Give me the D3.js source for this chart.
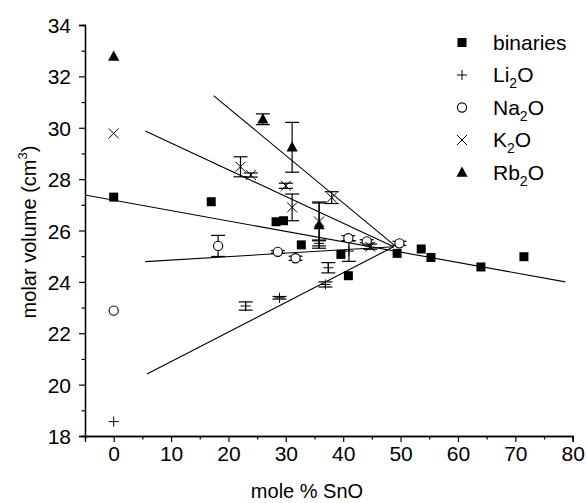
<!DOCTYPE html>
<html>
<head>
<meta charset="utf-8">
<script src="https://cdn.jsdelivr.net/npm/d3@7"></script>
<style>
body { margin: 0; background: white; }
text { font-family: Arial, "Liberation Sans", Helvetica, sans-serif; fill: black; }
</style>
</head>
<body>
<div id="chart"></div>
<script>
// values
var binX = [0, 17, 28.3, 29.6, 32.7, 39.6, 40.9, 49.4, 53.6, 55.3, 64.0, 71.5]
var binY = [27.3, 27.12, 26.34, 26.38, 25.44, 25.07, 24.24, 25.11, 25.28, 24.95, 24.58, 24.98]

var liX = [0, 23.0, 28.9, 35.8, 36.9, 37.4, 41.0]
var liY = [18.56, 23.06, 23.38, 25.5, 23.9, 24.55, 25.2]
var liErr = [0, 0.16, 0.05, 0.1, 0.1, 0.2, 0.4]

var naX = [0, 18.2, 28.6, 31.7, 40.9, 44.1, 49.8]
var naY = [22.88, 25.4, 25.17, 24.92, 25.7, 25.58, 25.5]
var naErr = [0, 0.41, 0.05, 0.08, 0.1, 0.06, 0.08]

var kX = [0, 22.1, 23.9, 30.0, 31.1, 35.8, 38.0, 44.7]
var kY = [29.78, 28.48, 28.16, 27.74, 26.9, 26.35, 27.28, 25.37]
var kErr = [0, 0.39, 0.08, 0.1, 0.52, 0.72, 0.23, 0.1]

var rbX = [0, 26.0, 31.1, 35.8]
var rbY = [32.77, 30.33, 29.24, 26.21]
var rbErr = [0, 0.21, 0.97, 0.9]

// fitted lines: [x0, y0, x1, y1]
var fitBin = [-5, 27.38, 78.7, 24.0]
var fitLi = [5.8, 20.41, 48.8, 25.37]
var fitNa = [5.5, 24.79, 48.8, 25.37]
var fitK = [5.5, 29.87, 48.8, 25.37]
var fitRb = [17.4, 31.25, 49.2, 25.37]

var xTicks = [0, 10, 20, 30, 40, 50, 60, 70, 80]
var xMinor = [5, 15, 25, 35, 45, 55, 65, 75]
var yTicks = [18, 20, 22, 24, 26, 28, 30, 32, 34]
var yMinor = [19, 21, 23, 25, 27, 29, 31, 33]

var legendNames = [["binaries", ""], ["Li", "2", "O"], ["Na", "2", "O"], ["K", "2", "O"], ["Rb", "2", "O"]]
var legendShapes = ["square", "plus", "circle", "cross", "triangle"]

var w = 587
var h = 503

var svg = d3.select("#chart").append("svg").attr("width", w).attr("height", h)

var xScale = d3.scaleLinear().domain([-5, 80]).range([85, 572.7])
var yScale = d3.scaleLinear().domain([18, 34]).range([436, 25])

// axes
var xAxis = svg.append("g").attr("transform", "translate(0,436)")
  .call(d3.axisBottom(xScale).tickValues(xTicks).tickSize(6).tickPadding(3).tickFormat(d3.format("d")))
var xAxisMinor = svg.append("g").attr("transform", "translate(0,436)")
  .call(d3.axisBottom(xScale).tickValues(xMinor).tickSize(3.5).tickFormat(""))
var yAxis = svg.append("g").attr("transform", "translate(85,0)")
  .call(d3.axisLeft(yScale).tickValues(yTicks).tickSize(6).tickPadding(8).tickFormat(d3.format("d")))
var yAxisMinor = svg.append("g").attr("transform", "translate(85,0)")
  .call(d3.axisLeft(yScale).tickValues(yMinor).tickSize(3.5).tickFormat(""))

svg.selectAll(".domain").attr("stroke-width", 1.3)
svg.selectAll(".tick line").attr("stroke-width", 1.2)
svg.selectAll(".tick text")
  .attr("font-size", "21px")
  .attr("font-family", "Arial, 'Liberation Sans', sans-serif")
xAxis.selectAll(".tick text").attr("dy", "0.76em")
yAxis.selectAll(".tick text").attr("dy", "0.36em")

// axis titles
svg.append("text")
  .attr("x", 307).attr("y", 498)
  .attr("text-anchor", "middle")
  .attr("font-size", "20px")
  .text("mole % SnO")

var yTitle = svg.append("text")
  .attr("transform", "translate(36,232) rotate(-90)")
  .attr("text-anchor", "middle")
  .attr("font-size", "20px")
yTitle.append("tspan").text("molar volume (cm")
yTitle.append("tspan").attr("font-size", "13px").attr("dy", -9).text("3")
yTitle.append("tspan").attr("dy", 9).text(")")

// fit lines
var fits = [fitBin, fitLi, fitNa, fitK, fitRb]
svg.selectAll("line.fit")
  .data(fits)
  .enter()
  .append("line")
  .attr("class", "fit")
  .attr("x1", function(d) {return xScale(d[0]);})
  .attr("y1", function(d) {return yScale(d[1]);})
  .attr("x2", function(d) {return xScale(d[2]);})
  .attr("y2", function(d) {return yScale(d[3]);})
  .attr("stroke", "black")
  .attr("stroke-width", 1.1)

// draws one marker shape centered at 0,0
function drawShape(g, shape) {
  if (shape == "square") {
    g.append("rect").attr("x", -4.5).attr("y", -4.5).attr("width", 9).attr("height", 9).attr("fill", "black")
  } else if (shape == "plus") {
    g.append("path").attr("d", "M-5,0H5M0,-5V5").attr("stroke", "black").attr("stroke-width", 1).attr("fill", "none")
  } else if (shape == "circle") {
    g.append("circle").attr("r", 4.6).attr("fill", "white").attr("stroke", "black").attr("stroke-width", 1.1)
  } else if (shape == "cross") {
    g.append("path").attr("d", "M-5,-5L5,5M-5,5L5,-5").attr("stroke", "black").attr("stroke-width", 1).attr("fill", "none")
  } else if (shape == "triangle") {
    g.append("path").attr("d", "M0,-6L5.6,4.2H-5.6Z").attr("fill", "black")
  }
}

function drawSeries(xs, ys, errs, shape) {
  var data = xs.map(function(x, i) {return {x: x, y: ys[i], e: errs ? errs[i] : 0};})

  var bars = data.filter(function(d) {return d.e > 0;})
  var eb = svg.append("g")
  eb.selectAll("line.v").data(bars).enter().append("line")
    .attr("x1", function(d) {return xScale(d.x);})
    .attr("x2", function(d) {return xScale(d.x);})
    .attr("y1", function(d) {return yScale(d.y - d.e);})
    .attr("y2", function(d) {return yScale(d.y + d.e);})
    .attr("stroke", "black").attr("stroke-width", 1.2)
  eb.selectAll("line.top").data(bars).enter().append("line")
    .attr("x1", function(d) {return xScale(d.x) - 7;})
    .attr("x2", function(d) {return xScale(d.x) + 7;})
    .attr("y1", function(d) {return yScale(d.y + d.e);})
    .attr("y2", function(d) {return yScale(d.y + d.e);})
    .attr("stroke", "black").attr("stroke-width", 1.2)
  eb.selectAll("line.bot").data(bars).enter().append("line")
    .attr("x1", function(d) {return xScale(d.x) - 7;})
    .attr("x2", function(d) {return xScale(d.x) + 7;})
    .attr("y1", function(d) {return yScale(d.y - d.e);})
    .attr("y2", function(d) {return yScale(d.y - d.e);})
    .attr("stroke", "black").attr("stroke-width", 1.2)

  svg.append("g").selectAll("g").data(data).enter().append("g")
    .attr("transform", function(d) {return "translate(" + xScale(d.x) + "," + yScale(d.y) + ")";})
    .each(function() {drawShape(d3.select(this), shape);})
}

drawSeries(binX, binY, null, "square")
drawSeries(liX, liY, liErr, "plus")
drawSeries(naX, naY, naErr, "circle")
drawSeries(kX, kY, kErr, "cross")
drawSeries(rbX, rbY, rbErr, "triangle")

// legend
var legend = svg.append("g")
legendNames.forEach(function(name, i) {
  var row = legend.append("g").attr("transform", "translate(462," + (42.5 + i * 32.5) + ")")
  drawShape(row, legendShapes[i])
  var t = row.append("text").attr("x", 31).attr("y", 7).attr("font-size", "21px")
  t.append("tspan").text(name[0])
  if (name[1] != "") {
    t.append("tspan").attr("font-size", "14px").attr("dy", 6).text(name[1])
    t.append("tspan").attr("dy", -6).text(name[2])
  }
})
</script>
</body>
</html>
